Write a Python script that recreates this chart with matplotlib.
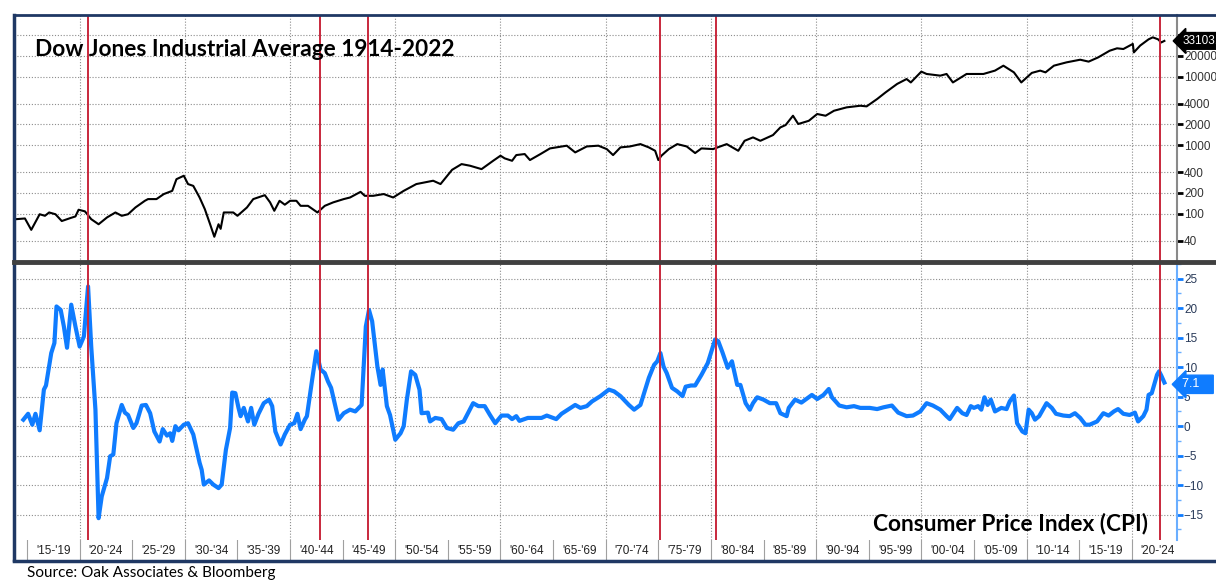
import matplotlib
matplotlib.use("Agg")
import matplotlib.pyplot as plt
from matplotlib.lines import Line2D
from matplotlib.ticker import FixedLocator, FuncFormatter, MultipleLocator

# Dow Jones Industrial Average
dow_years = [1913.95, 1914.8, 1915.4, 1916.2, 1916.7, 1917.1, 1917.7, 1918.3, 1919.1, 1919.6,
             1919.9, 1920.5, 1921.1, 1921.8, 1922.6, 1923.4, 1924.0, 1924.6, 1925.3, 1926.2,
             1926.5, 1927.3, 1928.0, 1928.8, 1929.2, 1929.9, 1930.3, 1930.8, 1931.4, 1931.9,
             1932.4, 1932.8, 1933.2, 1933.4, 1933.7, 1934.6, 1935.0, 1935.9, 1936.5, 1937.6,
             1938.1, 1938.5, 1939.0, 1939.5, 1940.0, 1940.6, 1941.0, 1941.7, 1942.6, 1943.3,
             1944.1, 1945.1, 1945.7, 1946.7, 1947.1, 1947.9, 1948.9, 1949.8, 1950.8, 1952.0,
             1953.6, 1954.3, 1955.4, 1956.3, 1957.1, 1958.2, 1959.3, 1960.0, 1960.4, 1961.1,
             1961.5, 1962.3, 1962.8, 1963.8, 1964.7, 1966.3, 1967.1, 1968.2, 1969.3, 1970.1,
             1970.7, 1971.4, 1972.3, 1973.3, 1974.1, 1974.7, 1975.0, 1975.3, 1976.0, 1976.8,
             1977.7, 1978.5, 1979.1, 1980.2, 1981.5, 1982.6, 1983.2, 1984.0, 1984.7, 1985.9,
             1986.6, 1987.1, 1987.8, 1988.3, 1989.3, 1990.1, 1990.9, 1991.7, 1992.9, 1994.2,
             1994.8, 1995.8, 1996.6, 1997.7, 1998.6, 1999.0, 2000.0, 2000.5, 2001.8, 2002.4,
             2003.0, 2004.3, 2005.9, 2007.0, 2007.8, 2008.8, 2009.5, 2010.5, 2011.3, 2011.8,
             2012.6, 2013.8, 2015.1, 2015.9, 2016.8, 2017.9, 2018.6, 2019.2, 2019.8, 2020.1,
             2020.2, 2020.8, 2021.6, 2022.0, 2022.5, 2022.8, 2023.1]
dow_values = [83, 85, 58, 98, 93, 104, 98, 78, 86, 91,
              114, 108, 83, 70, 88, 104, 93, 98, 123, 154,
              163, 163, 193, 215, 318, 357, 270, 254, 172, 116,
              70, 46, 70, 60, 104, 104, 93, 123, 163, 186,
              146, 110, 154, 135, 154, 154, 130, 130, 104, 130,
              146, 163, 172, 208, 182, 182, 193, 172, 215, 270,
              302, 270, 436, 528, 500, 446, 590, 700, 640, 590,
              715, 740, 605, 740, 894, 980, 782, 955, 980, 874,
              715, 925, 955, 1034, 925, 826, 605, 700, 874, 1034,
              955, 765, 894, 874, 1034, 826, 1155, 1295, 1155, 1400,
              1810, 1960, 2680, 2030, 2260, 2840, 2680, 3170, 3550, 3750,
              3670, 4700, 5870, 7800, 9200, 8200, 11800, 10900, 10300, 10900,
              8200, 10900, 10900, 12200, 14400, 11500, 8200, 11300, 12200, 11500,
              14400, 16100, 17600, 16500, 19000, 23800, 25800, 25200, 28300, 29900,
              22500, 28300, 34900, 37300, 34900, 31400, 33103]

# CPI year-over-year change, %
cpi_years = [1914.65, 1915.1, 1915.5, 1915.8, 1916.2, 1916.6, 1916.8, 1917.3, 1917.6, 1917.8,
             1918.2, 1918.5, 1918.8, 1919.2, 1919.6, 1920.0, 1920.4, 1920.8, 1921.1, 1921.5,
             1921.8, 1922.1, 1922.6, 1922.9, 1923.2, 1923.5, 1924.0, 1924.3, 1924.6, 1925.1,
             1925.4, 1925.9, 1926.3, 1926.7, 1927.1, 1927.6, 1927.9, 1928.3, 1928.6, 1928.8,
             1929.1, 1929.4, 1929.9, 1930.3, 1930.8, 1931.4, 1931.6, 1931.8, 1932.3, 1932.7,
             1933.2, 1933.5, 1933.9, 1934.3, 1934.5, 1934.8, 1935.1, 1935.3, 1935.6, 1936.0,
             1936.3, 1936.6, 1937.0, 1937.5, 1938.0, 1938.3, 1938.6, 1939.1, 1939.5, 1940.0,
             1940.4, 1940.7, 1941.0, 1941.4, 1941.6, 1942.1, 1942.5, 1942.9, 1943.3, 1943.6,
             1943.9, 1944.6, 1945.1, 1945.7, 1946.2, 1946.8, 1947.2, 1947.5, 1947.8, 1948.3,
             1948.6, 1948.8, 1949.2, 1949.5, 1950.0, 1950.5, 1950.8, 1951.1, 1951.5, 1951.9,
             1952.3, 1952.5, 1953.1, 1953.3, 1953.8, 1954.4, 1954.9, 1955.5, 1956.0, 1956.5,
             1957.4, 1957.9, 1958.5, 1959.0, 1959.5, 1960.1, 1960.7, 1961.1, 1961.5, 1961.8,
             1962.6, 1963.9, 1964.4, 1965.3, 1965.8, 1966.4, 1967.1, 1967.6, 1968.2, 1968.7,
             1969.5, 1970.3, 1970.8, 1971.4, 1972.2, 1972.7, 1973.3, 1974.1, 1974.6, 1974.9,
             1975.2, 1975.5, 1975.8, 1976.3, 1976.8, 1977.3, 1977.6, 1978.1, 1978.5, 1979.1,
             1979.7, 1980.4, 1980.7, 1981.1, 1981.6, 1982.0, 1982.5, 1982.8, 1983.3, 1983.7,
             1984.0, 1984.4, 1985.0, 1985.6, 1986.2, 1986.6, 1987.2, 1987.4, 1988.0, 1988.6,
             1989.6, 1990.1, 1990.7, 1991.2, 1991.5, 1992.2, 1992.9, 1993.6, 1994.2, 1995.1,
             1995.8, 1996.4, 1997.2, 1997.8, 1998.6, 1999.2, 1999.9, 2000.5, 2001.1, 2001.8,
             2002.4, 2002.7, 2003.4, 2003.9, 2004.3, 2004.7, 2005.0, 2005.4, 2005.7, 2006.0,
             2006.3, 2006.6, 2007.0, 2007.6, 2008.1, 2008.4, 2008.8, 2009.1, 2009.6, 2009.9,
             2010.2, 2010.5, 2010.8, 2011.2, 2011.9, 2012.4, 2012.8, 2013.5, 2014.1, 2014.6,
             2015.1, 2015.6, 2016.0, 2016.7, 2017.3, 2017.8, 2018.3, 2018.7, 2019.2, 2019.8,
             2020.3, 2020.6, 2021.1, 2021.4, 2021.6, 2021.9, 2022.4, 2022.6, 2022.8, 2023.1]
cpi_values = [1.1, 2.1, 0.25, 2.1, -0.7, 6.2, 6.9, 12.4, 14.1, 20.3,
              19.7, 16.9, 13.3, 20.6, 16.9, 13.5, 15.2, 23.7, 13.5, 2.8,
              -15.6, -11.9, -8.8, -5.1, -4.8, 0.5, 3.6, 2.3, 1.9, -0.3,
              0.5, 3.5, 3.6, 2.2, -0.9, -2.6, -0.5, -1.6, -1.2, -2.5,
              0.0, -0.7, 0.25, 0.5, -1.4, -6.2, -7.4, -9.9, -9.2, -9.9,
              -10.5, -9.9, -4.0, -0.3, 5.7, 5.6, 3.1, 1.7, 3.1, 0.8,
              3.1, 0.25, 2.1, 3.9, 4.5, 3.4, -0.9, -3.1, -1.4, 0.25,
              0.5, 2.1, -0.5, 1.1, 1.7, 7.9, 12.7, 9.6, 9.0, 7.6,
              6.5, 1.1, 2.2, 2.8, 2.5, 3.6, 16.9, 19.7, 17.8, 10.1,
              7.0, 9.6, 3.4, 1.9, -2.3, -1.2, 0.0, 4.5, 9.3, 8.7,
              6.2, 2.2, 2.3, 0.8, 1.4, 1.2, -0.3, -0.6, 0.5, 0.8,
              3.9, 3.4, 3.4, 1.9, 0.5, 1.8, 1.8, 1.2, 1.7, 0.9,
              1.4, 1.4, 1.8, 1.2, 2.1, 2.8, 3.6, 3.1, 3.4, 4.2,
              5.1, 6.2, 5.9, 5.1, 3.6, 2.8, 3.6, 8.2, 10.4, 11.0,
              12.4, 10.1, 9.0, 6.5, 5.9, 5.1, 6.7, 6.9, 6.9, 8.7,
              10.7, 14.7, 14.4, 12.5, 9.9, 11.0, 7.0, 7.0, 3.9, 2.8,
              3.9, 4.9, 4.5, 3.9, 3.9, 2.2, 1.7, 3.1, 4.5, 4.0,
              5.3, 4.6, 5.3, 6.3, 4.9, 3.5, 3.2, 3.4, 3.1, 3.1,
              2.9, 3.2, 3.5, 2.3, 1.7, 1.8, 2.5, 3.9, 3.5, 2.8,
              1.7, 1.2, 3.1, 2.2, 1.9, 3.4, 3.1, 3.4, 2.8, 4.9,
              3.6, 4.5, 2.5, 3.1, 2.9, 4.2, 5.2, 0.5, -0.9, -1.2,
              2.8, 2.2, 1.1, 1.7, 3.9, 3.1, 2.1, 1.8, 1.7, 2.2,
              1.4, 0.25, 0.25, 0.8, 2.2, 1.8, 2.5, 2.9, 2.1, 1.9,
              2.3, 0.8, 1.7, 2.8, 5.3, 5.6, 8.7, 9.3, 8.6, 7.4]

# years marked with red vertical lines
event_years = [1920.8, 1942.8, 1947.45, 1975.15, 1980.45, 2022.7]

dow_ticks = [40, 100, 200, 400, 1000, 2000, 4000, 10000, 20000, 40000]
cpi_ticks = [-15, -10, -5, 0, 5, 10, 15, 20, 25]
period_starts = list(range(1915, 2025, 5))
period_labels = ["'%02d-'%02d" % (y % 100, (y + 4) % 100) for y in period_starts]

W, H = 1216, 586
XMIN, XMAX = 1913.76, 2024.3
RED = "#c8283c"
BLUE = "#0f7cff"
NAVY = "#1f3864"
GRID = dict(color="#8c8c8c", linestyle=(0, (1, 1.6)), linewidth=0.8)

plt.rcParams["font.family"] = ["Liberation Sans", "DejaVu Sans"]

fig = plt.figure(figsize=(W / 100, H / 100), dpi=100)


def fax(x0, y0, x1, y1):
    # axes from pixel box (top-left origin)
    return fig.add_axes([x0 / W, 1 - y1 / H, (x1 - x0) / W, (y1 - y0) / H])


def dow_fmt(v, p):
    # top tick (40000) sits behind the last-value tag
    return "" if v >= 40000 else "%d" % v


# ---- top panel: Dow Jones (log)
ax1 = fax(14, 15, 1177, 262)
ax1.plot(dow_years, dow_values, color="black", lw=1.5, zorder=3)
ax1.set_yscale("log")
ax1.set_ylim(19.7, 79000)
ax1.set_xlim(XMIN, XMAX)
ax1.yaxis.set_major_locator(FixedLocator(dow_ticks))
ax1.yaxis.set_minor_locator(FixedLocator([]))
ax1.yaxis.set_major_formatter(FuncFormatter(dow_fmt))
ax1.yaxis.tick_right()
ax1.tick_params(axis="y", which="major", direction="out", length=4, width=2,
                color="black", labelsize=8.5, labelcolor="#333333", pad=1)
ax1.set_xticks(range(1920, 2021, 10))
ax1.tick_params(axis="x", length=0, labelbottom=False)
ax1.grid(True, which="major", **GRID)
for s in ["top", "bottom", "left"]:
    ax1.spines[s].set_visible(False)
ax1.spines["right"].set_color("#8a8a8a")
ax1.spines["right"].set_linewidth(1.5)
for ey in event_years:
    ax1.axvline(ey, color=RED, lw=1.4, zorder=4)
ax1.text(0.018, 0.86, "Dow Jones Industrial Average 1914-2022", transform=ax1.transAxes,
         fontsize=16.3, fontweight="bold", family=["Lato", "DejaVu Sans"], va="center", zorder=6)
ax1.text(1.0045, dow_values[-1], "33103.", transform=ax1.get_yaxis_transform(),
         fontsize=8.5, color="white", va="center", ha="left", zorder=10, clip_on=False,
         bbox=dict(boxstyle="larrow,pad=0.2", fc="black", ec="black"))

# ---- bottom panel: CPI
ax2 = fax(14, 264, 1177, 540)
ax2.plot(cpi_years, cpi_values, color=BLUE, lw=3, zorder=3, solid_joinstyle="round")
ax2.set_ylim(-19.3, 27.5)
ax2.set_xlim(XMIN, XMAX)
ax2.yaxis.set_major_locator(FixedLocator(cpi_ticks))
ax2.yaxis.set_minor_locator(MultipleLocator(2.5))
ax2.yaxis.tick_right()
ax2.tick_params(axis="y", which="major", direction="out", length=4, width=2,
                color=BLUE, labelsize=8.5, labelcolor="#2a3b5a", pad=1)
ax2.tick_params(axis="y", which="minor", direction="out", length=3, width=1, color="#6aaeff")
ax2.set_xticks(range(1920, 2021, 10))
ax2.tick_params(axis="x", length=0, labelbottom=False)
ax2.grid(True, which="major", **GRID)
for s in ["top", "bottom", "left"]:
    ax2.spines[s].set_visible(False)
ax2.spines["right"].set_color("#6aaeff")
ax2.spines["right"].set_linewidth(1.5)
for ey in event_years:
    ax2.axvline(ey, color=RED, lw=1.4, zorder=4)
ax2.text(0.975, 0.06, "Consumer Price Index (CPI)", transform=ax2.transAxes,
         fontsize=16.3, fontweight="bold", family=["Lato", "DejaVu Sans"], va="center",
         ha="right", zorder=6)
ax2.text(1.0045, 7.1, "7.1   ", transform=ax2.get_yaxis_transform(),
         fontsize=9, color="white", va="center", ha="left", zorder=10, clip_on=False,
         bbox=dict(boxstyle="larrow,pad=0.25", fc=BLUE, ec=BLUE))

# ---- period label band
ax3 = fax(14, 540, 1177, 560)
ax3.set_xlim(XMIN, XMAX)
ax3.set_ylim(0, 1)
ax3.axis("off")
for y0, lab in zip(period_starts, period_labels):
    ax3.axvline(y0, color="#a0a0a0", lw=0.8)
    ax3.text(y0 + 2.5, 0.45, lab, ha="center", va="center", fontsize=8.5,
             color="#222222", clip_on=False)

# ---- frame lines
fig.add_artist(Line2D([14 / W, 1], [1 - 15 / H] * 2, color=NAVY, lw=2))
fig.add_artist(Line2D([14 / W, 14 / W], [1 - 15 / H, 1 - 560 / H], color=NAVY, lw=2.5))
fig.add_artist(Line2D([14 / W, 1], [1 - 561 / H] * 2, color=NAVY, lw=2.5))
fig.add_artist(Line2D([14 / W, 1], [1 - 262 / H] * 2, color="#404040", lw=3.5))

fig.text(27 / W, 1 - 573 / H, "Source: Oak Associates & Bloomberg", fontsize=11,
         family=["Lato", "DejaVu Sans"], va="center", ha="left")

fig.savefig("out.png", dpi=100)
